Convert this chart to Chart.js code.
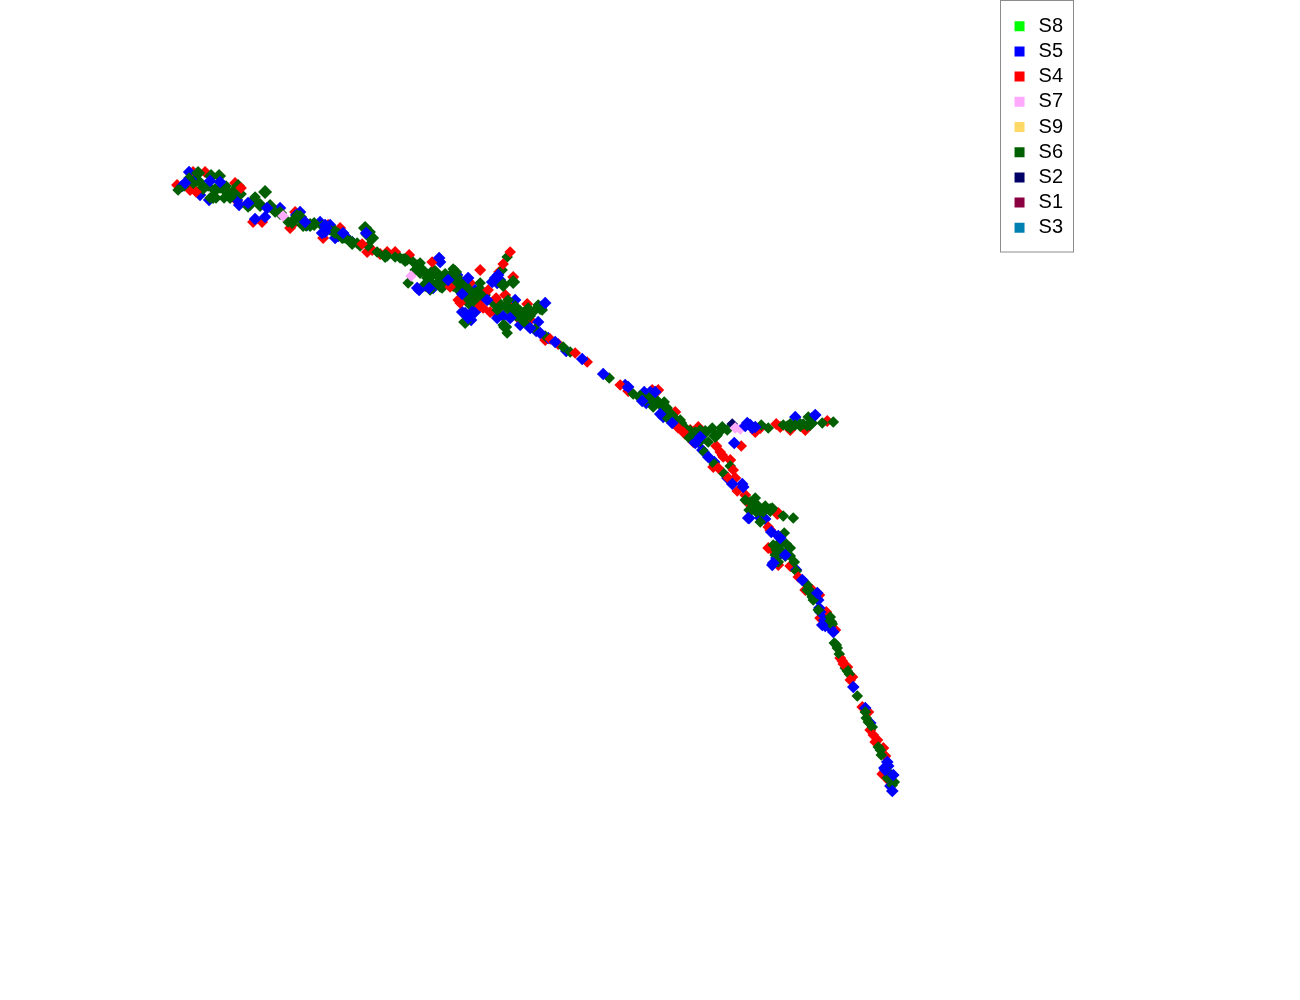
<!DOCTYPE html>
<html>
<head>
<meta charset="utf-8">
<style>
  html, body { margin: 0; background: #fff; }
  canvas { display: block; }
</style>
<script src="https://cdn.jsdelivr.net/npm/chart.js@4/dist/chart.umd.min.js"></script>
</head>
<body>
<canvas id="chart" width="1300" height="1000"></canvas>
<script>
const seriesNames = ['S8', 'S5', 'S4', 'S7', 'S9', 'S6', 'S2', 'S1', 'S3'];
const seriesColors = ['#00ff00', '#0000ff', '#ff0000', '#ffaaff', '#ffd966', '#005f00', '#000066', '#8b0040', '#0080b0'];

// points, as [x, y]
const s8Points = [];
const s9Points = [];
const s1Points = [];
const s3Points = [];
const s2Points = [[732,424]];
const s7Points = [[283,216],[411,276],[735,428],[740,429]];

// these sit on top of the green
const s5Points = [
  [185,183],[210,181],[220,182],[248,203],[255,219],[267,208],[305,222],[325,225],[322,233],
  [343,233],[366,233],[439,258],[419,290],[429,288],[448,280],[462,294],[468,278],[470,315],[465,313],
  [495,278],[492,282],[498,275],[487,300],[510,318],[545,303],[530,328],[540,333],[555,342],[582,359],[603,374],[628,387],
  [642,401],[655,392],[660,414],[672,423],[700,437],[695,443],[708,457],[734,443],[732,484],[743,487],
  [748,518],[747,423],[752,428],[755,427],[815,415],[771,532],[780,538],[785,555],[773,563],[802,580],
  [817,593],[822,625],[833,632],[853,687],[887,762],[885,770],[892,791],[893,775],[325,232],[326,228],
  [750,425],[745,426],[468,318],[472,312]
];
const s4Points = [
  [196,192],[241,188],[362,244],[510,252],[503,264],[432,262],[488,290],[496,298],[460,303],[480,306],
  [450,287],[550,339],[575,353],[587,362],[620,385],[678,428],[683,432],[720,452],[723,457],[733,470],
  [728,478],[737,491],[741,446],[768,527],[798,577],[718,468],[842,661],[850,680],[873,735],[458,300],
  [483,308],[722,455],[843,664]
];
const s6Points = [
  [189,178],[178,190],[227,192],[210,198],[248,207],[255,197],[275,212],[330,230],[338,233],
  [343,238],[357,243],[364,228],[370,232],[377,252],[387,256],[395,257],[407,260],[417,265],
  [413,262],[420,263],[408,283],[427,275],[438,277],[440,287],[453,269],[455,280],[465,285],[470,298],
  [480,283],[472,303],[502,270],[507,257],[503,325],[507,333],[500,307],
  [510,310],[522,313],[525,323],[535,310],[542,310],[535,329],[545,336],[563,347],[570,352],[430,290],
  [442,288],[609,378],[633,394],[653,407],[667,408],[667,418],[680,420],[688,437],
  [695,432],[708,442],[717,435],[727,430],[704,452],[714,464],[723,473],[730,466],[750,502],
  [757,505],[763,512],[772,508],[783,516],[793,518],[760,522],[768,428],[761,425],[787,426],
  [795,425],[807,426],[808,417],[822,423],[833,422],[784,533],[773,545],[782,543],[790,548],
  [775,555],[778,562],[794,562],[796,571],[807,585],[813,600],[818,610],[830,617],
  [832,624],[834,643],[837,648],[839,654],[845,668],[849,674],[857,696],[865,712],[866,718],[872,727],
  [878,747],[881,755],[890,775],[894,782],
  [184,186],[194,184],[200,182],[208,186],[220,188],[226,186],[216,198],[224,198],[241,194],
  [258,203],[288,222],[297,215],[306,226],[322,226],[333,232],[350,241],[345,238],[352,243],[360,246],
  [366,234],[368,246],[386,255],[400,258],[403,259],[423,270],[415,270],[433,270],[433,284],
  [447,282],[450,275],[460,280],[458,290],[468,290],[475,293],[465,298],[478,296],[485,295],
  [508,300],[515,306],[528,308],[516,316],[530,316],[493,303],[497,310],[505,306],[512,316],[520,318],
  [527,315],[538,305],[640,396],[645,400],[660,405],[672,415],[675,422],[685,428],[692,434],[700,430],
  [712,428],[658,402],[664,402],[783,425],[790,428],[803,424],[812,423],[745,500],[752,508],
  [756,512],[765,506],[755,498],[776,550],[780,550],[786,544],[790,556],[812,597],[804,582],
  [836,645],[847,671],[868,722],[880,750],[887,778],[892,785],[888,772]
];
// the wider green marks
const s6LargePoints = [
  [198,173],[203,188],[215,190],[225,190],[233,192],[238,186],[211,176],[219,176],[213,197],[230,197],
  [265,192],[260,205],[250,204],[270,206],[280,213],[292,222],[300,217],[303,225],[314,224],[365,228],
  [372,238],[368,235],[420,272],[428,278],[435,272],[425,285],[440,282],[445,275],[455,272],[453,285],
  [463,285],[470,292],[476,298],[470,304],[480,290],[500,305],[510,310],[520,312],[530,312],[540,308],
  [505,327],[465,322],[503,285],[513,282],[650,398],[655,400],[665,410],[690,432],[705,432],[715,436],
  [722,428],[700,440],[800,425],[790,425],[810,424],[755,505],[750,510],[760,510],[770,510],[778,545],
  [785,555],[808,590],[830,622],[310,225],[335,232],[342,237],[352,243],[385,256],[405,260],[640,397],
  [672,417],[680,423]
];

// same series again, drawn below the green
const s5UnderPoints = [
  [189,172],[182,186],[195,180],[209,200],[239,205],[265,217],[307,225],[280,208],[296,215],[352,242],[338,236],
  [440,262],[425,285],[457,275],[475,290],[497,283],[515,300],[503,316],[497,318],[475,312],[536,331],
  [548,338],[566,351],[650,392],[646,403],[663,417],[680,426],[692,440],[702,450],[714,462],[727,478],
  [765,519],[749,518],[778,536],[796,570],[819,608],[820,612],[824,620],[865,708],[870,723],[888,766],
  [795,417],[812,418],[625,385],[200,195],[237,200],[300,212],[320,222],[330,225],[335,238],[345,236],
  [417,288],[433,288],[471,320],[462,312],[500,280],[520,325],[538,322],[644,392],[690,436],[698,442],
  [742,484],[760,518],[772,565],[776,558],[818,600],[825,626],[830,628],[884,768],[890,786]
];
const s4UnderPoints = [
  [177,185],[193,172],[253,222],[237,201],[295,212],[292,225],[328,225],[323,238],[367,252],[387,252],
  [409,255],[480,270],[499,272],[513,277],[505,295],[513,304],
  [527,304],[497,315],[520,320],[558,344],[628,391],[658,390],[698,427],[722,428],[760,428],
  [780,427],[827,421],[747,502],[777,514],[713,467],[778,513],[772,550],[778,565],[805,590],[819,595],
  [828,617],[820,618],[830,628],[847,667],[862,707],[877,740],[883,748],[882,774],[675,412],[690,430],
  [205,172],[190,190],[235,183],[262,222],[290,228],[340,228],[372,250],[380,254],[395,252],
  [470,283],[480,300],[490,312],[530,320],[545,340],[652,390],[685,434],[693,442],[716,446],
  [730,460],[735,478],[745,495],[770,530],[768,548],[790,566],[812,590],[826,612],[835,630],[840,658],
  [852,677],[868,712],[870,730],[875,742],[885,756],[888,780],[776,424],[790,430],[805,430],[755,432]
];

function toXY(points) {
  return points.map(p => ({ x: p[0], y: p[1] }));
}

const seriesPoints = [s8Points, s5Points, s4Points, s7Points, s9Points, s6Points, s2Points, s1Points, s3Points];

const datasets = seriesNames.map((name, i) => ({
  label: name,
  data: toXY(seriesPoints[i]),
  backgroundColor: seriesColors[i],
  radius: name === 'S5' ? 6.3 : 5.8
}));
// first dataset is painted last, so the extra layers go at the end
datasets.push({ label: 'under', data: toXY(s6LargePoints), backgroundColor: seriesColors[5], radius: 7 });
datasets.push({ label: 'under', data: toXY(s5UnderPoints), backgroundColor: seriesColors[1], radius: 6.2 });
datasets.push({ label: 'under', data: toXY(s4UnderPoints), backgroundColor: seriesColors[2], radius: 6 });

const legendFrame = {
  id: 'legendFrame',
  afterDraw(chart) {
    const ctx = chart.ctx;
    ctx.save();
    ctx.strokeStyle = '#8c8c8c';
    ctx.lineWidth = 1;
    ctx.strokeRect(1000.5, 0.5, 73, 251.5);
    ctx.restore();
  }
};

new Chart(document.getElementById('chart'), {
  type: 'scatter',
  data: { datasets },
  plugins: [legendFrame],
  options: {
    responsive: false,
    animation: false,
    layout: { autoPadding: false, padding: { top: 11, right: 227 } },
    elements: { point: { pointStyle: 'rectRot', radius: 5.8, borderWidth: 0 } },
    scales: {
      x: { display: false, min: 0, max: 1005 },
      y: { display: false, min: 11, max: 1000, reverse: true }
    },
    plugins: {
      tooltip: { enabled: false },
      legend: {
        position: 'right',
        align: 'start',
        labels: {
          usePointStyle: true,
          pointStyle: 'rect',
          boxWidth: 18,
          boxHeight: 10,
          padding: 5.2,
          color: '#000',
          font: { family: '"Liberation Sans", Arial, sans-serif', size: 20 },
          filter: item => item.text !== 'under'
        }
      }
    }
  }
});
</script>
</body>
</html>
